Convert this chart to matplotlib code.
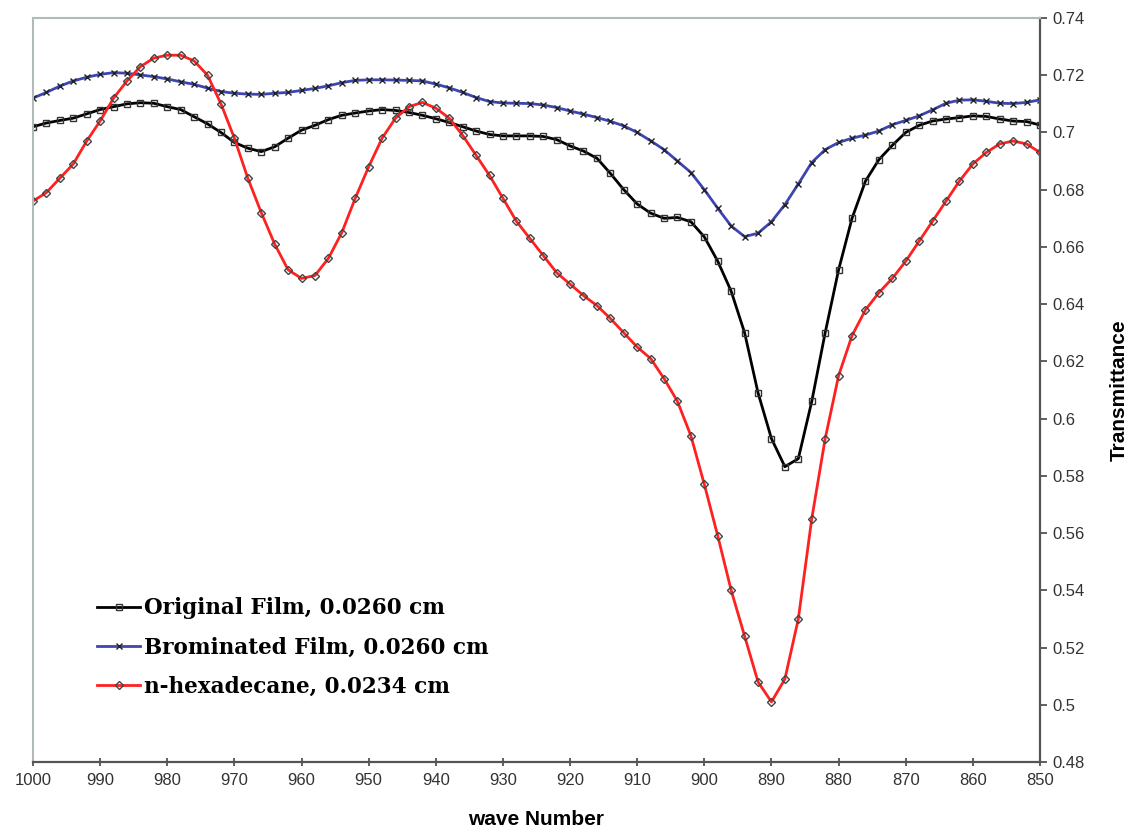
import matplotlib
matplotlib.use("Agg")
import matplotlib.pyplot as plt
import numpy as np

# wavenumbers (cm^-1), sampled every 2 cm^-1 from 1000 to 850
wavenumber = np.arange(1000, 849, -2)

original_film = [
    0.7020, 0.7033, 0.7042, 0.7050, 0.7065, 0.7080, 0.7090, 0.7100, 0.7104, 0.7102,
    0.7090, 0.7080, 0.7055, 0.7030, 0.7000, 0.6965, 0.6945, 0.6933, 0.6950, 0.6980,
    0.7008, 0.7025, 0.7045, 0.7060, 0.7068, 0.7075, 0.7080, 0.7077, 0.7070, 0.7060,
    0.7048, 0.7035, 0.7020, 0.7005, 0.6993, 0.6988, 0.6988, 0.6988, 0.6986, 0.6975,
    0.6953, 0.6935, 0.6910, 0.6857, 0.6800, 0.6750, 0.6718, 0.6700, 0.6703, 0.6688,
    0.6635, 0.6550, 0.6445, 0.6300, 0.6090, 0.5930, 0.5832, 0.5860, 0.6060, 0.6300,
    0.6520, 0.6700, 0.6830, 0.6905, 0.6955, 0.7000, 0.7025, 0.7040, 0.7047, 0.7052,
    0.7058, 0.7056, 0.7047, 0.7040, 0.7038, 0.7026,
]

brominated_film = [
    0.7120, 0.7140, 0.7162, 0.7180, 0.7193, 0.7203, 0.7209, 0.7207, 0.7201, 0.7195,
    0.7187, 0.7177, 0.7168, 0.7155, 0.7143, 0.7137, 0.7134, 0.7133, 0.7137, 0.7140,
    0.7147, 0.7154, 0.7163, 0.7174, 0.7182, 0.7184, 0.7184, 0.7183, 0.7182, 0.7180,
    0.7169, 0.7156, 0.7140, 0.7122, 0.7108, 0.7103, 0.7102, 0.7101, 0.7096, 0.7087,
    0.7075, 0.7064, 0.7052, 0.7039, 0.7023, 0.7000, 0.6971, 0.6940, 0.6900, 0.6860,
    0.6800, 0.6735, 0.6673, 0.6636, 0.6648, 0.6688, 0.6748, 0.6820, 0.6895, 0.6940,
    0.6965, 0.6980, 0.6991, 0.7005, 0.7027, 0.7042, 0.7058, 0.7079, 0.7102, 0.7113,
    0.7114, 0.7109, 0.7102, 0.7101, 0.7105, 0.7114,
]

n_hexadecane = [
    0.6760, 0.6790, 0.6840, 0.6890, 0.6970, 0.7040, 0.7120, 0.7180, 0.7230, 0.7260,
    0.7270, 0.7270, 0.7250, 0.7200, 0.7100, 0.6980, 0.6840, 0.6720, 0.6610, 0.6520,
    0.6490, 0.6500, 0.6560, 0.6650, 0.6770, 0.6880, 0.6980, 0.7050, 0.7090, 0.7105,
    0.7085, 0.7050, 0.6990, 0.6920, 0.6850, 0.6770, 0.6690, 0.6630, 0.6570, 0.6510,
    0.6470, 0.6430, 0.6395, 0.6350, 0.6300, 0.6250, 0.6210, 0.6140, 0.6060, 0.5940,
    0.5770, 0.5590, 0.5400, 0.5240, 0.5080, 0.5010, 0.5090, 0.5300, 0.5650, 0.5930,
    0.6150, 0.6290, 0.6380, 0.6440, 0.6490, 0.6550, 0.6620, 0.6690, 0.6760, 0.6830,
    0.6890, 0.6930, 0.6960, 0.6970, 0.6960, 0.6930,
]

labels = ["Original Film, 0.0260 cm", "Brominated Film, 0.0260 cm", "n-hexadecane, 0.0234 cm"]
xticks = [1000, 990, 980, 970, 960, 950, 940, 930, 920, 910, 900, 890, 880, 870, 860, 850]
yticks = [0.48, 0.5, 0.52, 0.54, 0.56, 0.58, 0.6, 0.62, 0.64, 0.66, 0.68, 0.7, 0.72, 0.74]
ytick_labels = ["0.48", "0.5", "0.52", "0.54", "0.56", "0.58", "0.6", "0.62", "0.64",
                "0.66", "0.68", "0.7", "0.72", "0.74"]

plt.rcParams['font.family'] = ['Liberation Sans', 'DejaVu Sans']

fig = plt.figure(figsize=(11.31, 8.32), dpi=100)
ax = fig.add_axes([33 / 1131, 1 - 762 / 832, (1040 - 33) / 1131, (762 - 18) / 832])

ax.plot(wavenumber, original_film, color="#000000", lw=2.0, marker="s", ms=5,
        mfc="none", mec="#333333", mew=1.0, label=labels[0])
ax.plot(wavenumber, brominated_film, color="#3d45b0", lw=2.0, marker="x", ms=5,
        mec="#222222", mew=1.0, label=labels[1])
ax.plot(wavenumber, n_hexadecane, color="#ff2020", lw=2.0, marker="D", ms=4.5,
        mfc="none", mec="#444444", mew=1.0, label=labels[2])

ax.set_xlim(1000, 850)
ax.set_ylim(0.48, 0.74)
ax.set_xticks(xticks)
ax.set_xticklabels([str(t) for t in xticks], fontsize=12)
ax.set_yticks(yticks)
ax.set_yticklabels(ytick_labels, fontsize=12)

ax.yaxis.tick_right()
ax.yaxis.set_label_position("right")
ax.tick_params(axis="y", direction="out", length=5, width=1.2, color="#444444",
               pad=4, labelcolor="#333333")
ax.tick_params(axis="x", direction="inout", length=6, width=1.2, color="#444444",
               pad=5, labelcolor="#333333")

for side in ("top", "left"):
    ax.spines[side].set_color("#b0bab8")
    ax.spines[side].set_linewidth(1.5)
for side in ("bottom", "right"):
    ax.spines[side].set_color("#555555")
    ax.spines[side].set_linewidth(1.6)

ax.set_xlabel("wave Number", fontsize=15, fontweight="bold", labelpad=16)
ax.set_ylabel("Transmittance", fontsize=15, fontweight="bold", labelpad=18, rotation=90)

leg = ax.legend(loc="lower left", bbox_to_anchor=(0.055, 0.075), frameon=False,
                prop={"family": ["DejaVu Serif"], "weight": "bold", "size": 15.5},
                handlelength=2.0, handletextpad=0.2, labelspacing=0.8, borderaxespad=0)

fig.savefig("out.png", dpi=100)
